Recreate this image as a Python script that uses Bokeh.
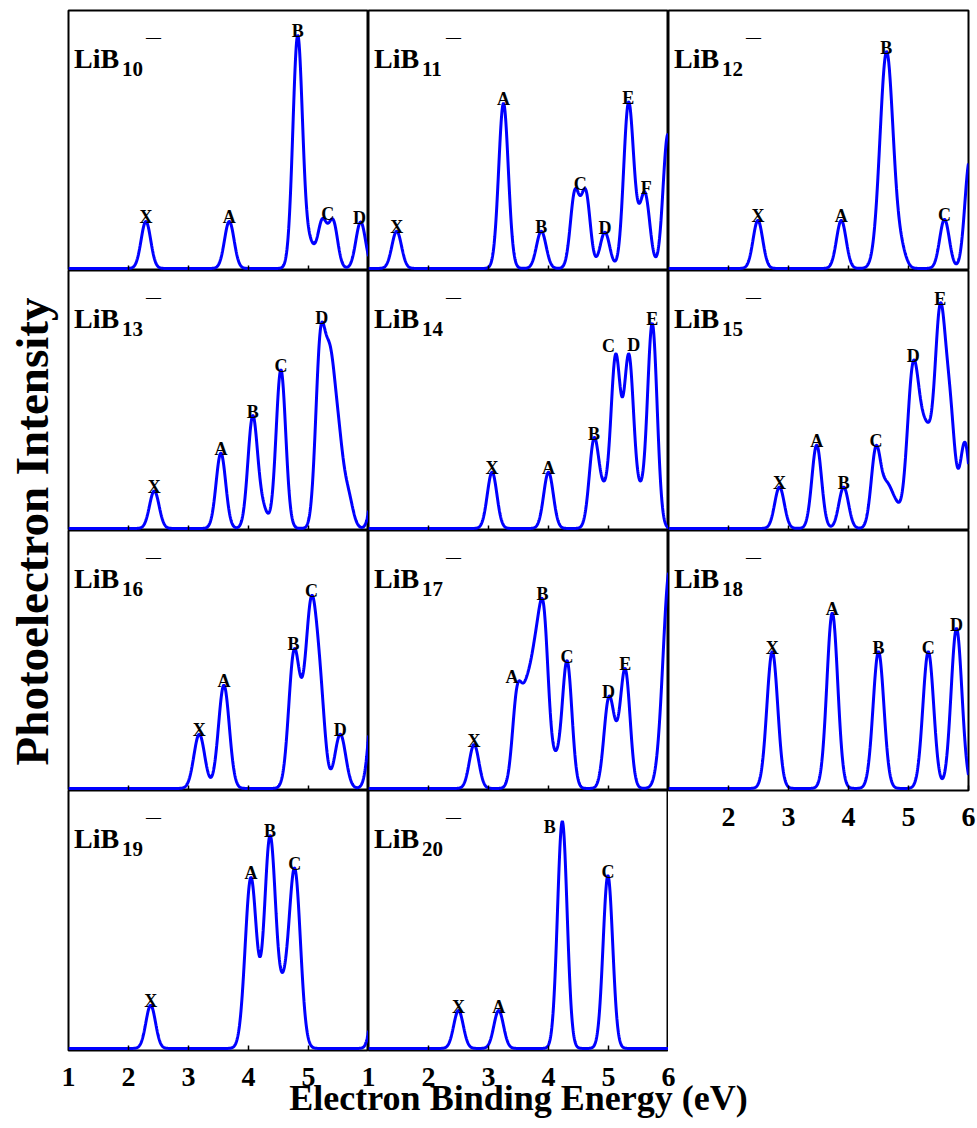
import numpy as np
from bokeh.plotting import figure
from bokeh.layouts import row, column
from bokeh.models import Range1d, FixedTicker, Label, ColumnDataSource
from bokeh.embed import file_html
from bokeh.resources import INLINE
from bokeh.core.properties import value

SERIF = "Liberation Serif"
BLUE = "#0000ff"

# ---------------- data (peak centre eV, peak height, gaussian width eV) ----------------
LIB10_CENTERS = [2.29, 3.68, 4.82, 5.02, 5.23, 5.41, 5.87]
LIB10_HEIGHTS = [0.182, 0.182, 0.90, 0.09, 0.18, 0.18, 0.18]
LIB10_WIDTHS = [0.08, 0.08, 0.08, 0.08, 0.075, 0.075, 0.08]
LIB10_LABELS = ["X", "A", "B", "C", "D"]
LIB10_LABEL_EV = [2.29, 3.68, 4.82, 5.32, 5.85]

LIB11_CENTERS = [1.47, 3.25, 3.88, 4.44, 4.62, 4.94, 5.33, 5.45, 5.61, 5.99]
LIB11_HEIGHTS = [0.144, 0.64, 0.144, 0.29, 0.29, 0.14, 0.61, 0.10, 0.28, 0.52]
LIB11_WIDTHS = [0.08, 0.08, 0.08, 0.075, 0.075, 0.08, 0.08, 0.08, 0.08, 0.08]
LIB11_LABELS = ["X", "A", "B", "C", "D", "E", "F"]
LIB11_LABEL_EV = [1.47, 3.25, 3.88, 4.53, 4.94, 5.33, 5.63]

LIB12_CENTERS = [2.49, 3.88, 4.635, 4.88, 5.60, 6.02]
LIB12_HEIGHTS = [0.186, 0.186, 0.84, 0.06, 0.19, 0.42]
LIB12_WIDTHS = [0.08, 0.08, 0.11, 0.08, 0.08, 0.08]
LIB12_LABELS = ["X", "A", "B", "C"]
LIB12_LABEL_EV = [2.49, 3.88, 4.63, 5.60]

LIB13_CENTERS = [2.43, 3.54, 4.07, 4.24, 4.54, 5.20, 5.36, 5.50, 5.66, 6.15]
LIB13_HEIGHTS = [0.145, 0.292, 0.43, 0.07, 0.615, 0.70, 0.55, 0.30, 0.12, 0.40]
LIB13_WIDTHS = [0.08] * 10
LIB13_LABELS = ["X", "A", "B", "C", "D"]
LIB13_LABEL_EV = [2.43, 3.54, 4.07, 4.54, 5.22]

LIB14_CENTERS = [3.06, 4.00, 4.76, 4.93, 5.12, 5.34, 5.53, 5.73]
LIB14_HEIGHTS = [0.218, 0.218, 0.34, 0.11, 0.655, 0.655, 0.11, 0.79]
LIB14_WIDTHS = [0.08] * 8
LIB14_LABELS = ["X", "A", "B", "C", "D", "E"]
LIB14_LABEL_EV = [3.06, 4.00, 4.76, 5.00, 5.42, 5.73]

LIB15_CENTERS = [2.85, 3.47, 3.92, 4.46, 4.64, 4.78, 5.08, 5.30, 5.53, 5.70, 5.94]
LIB15_HEIGHTS = [0.16, 0.323, 0.16, 0.31, 0.14, 0.08, 0.62, 0.33, 0.81, 0.38, 0.33]
LIB15_WIDTHS = [0.08, 0.08, 0.08, 0.08, 0.08, 0.08, 0.10, 0.10, 0.09, 0.08, 0.08]
LIB15_LABELS = ["X", "A", "B", "C", "D", "E"]
LIB15_LABEL_EV = [2.85, 3.47, 3.92, 4.46, 5.08, 5.53]

LIB16_CENTERS = [3.18, 3.59, 4.76, 4.92, 5.05, 5.20, 5.53, 6.12]
LIB16_HEIGHTS = [0.21, 0.40, 0.52, 0.12, 0.66, 0.30, 0.21, 0.50]
LIB16_WIDTHS = [0.09, 0.09, 0.09, 0.08, 0.09, 0.08, 0.09, 0.09]
LIB16_LABELS = ["X", "A", "B", "C", "D"]
LIB16_LABEL_EV = [3.18, 3.59, 4.75, 5.05, 5.53]

LIB17_CENTERS = [2.76, 3.48, 3.64, 3.78, 3.92, 4.12, 4.31, 5.00, 5.12, 5.28, 6.02]
LIB17_HEIGHTS = [0.17, 0.36, 0.30, 0.40, 0.62, 0.09, 0.49, 0.32, 0.10, 0.45, 0.85]
LIB17_WIDTHS = [0.08] * 10 + [0.11]
LIB17_LABELS = ["X", "A", "B", "C", "D", "E"]
LIB17_LABEL_EV = [2.76, 3.39, 3.90, 4.31, 5.00, 5.28]

LIB18_CENTERS = [2.73, 3.73, 4.50, 5.33, 5.80]
LIB18_HEIGHTS = [0.53, 0.68, 0.53, 0.53, 0.62]
LIB18_WIDTHS = [0.09] * 5
LIB18_LABELS = ["X", "A", "B", "C", "D"]
LIB18_LABEL_EV = [2.73, 3.73, 4.50, 5.33, 5.80]

LIB19_CENTERS = [2.37, 4.04, 4.36, 4.58, 4.77, 6.15]
LIB19_HEIGHTS = [0.167, 0.66, 0.82, 0.15, 0.69, 0.40]
LIB19_WIDTHS = [0.08, 0.095, 0.095, 0.08, 0.095, 0.08]
LIB19_LABELS = ["X", "A", "B", "C"]
LIB19_LABEL_EV = [2.37, 4.04, 4.36, 4.77]

LIB20_CENTERS = [2.50, 3.17, 4.23, 4.99]
LIB20_HEIGHTS = [0.147, 0.147, 0.88, 0.67]
LIB20_WIDTHS = [0.08] * 4
LIB20_LABELS = ["X", "A", "B", "C"]
LIB20_LABEL_EV = [2.50, 3.17, 4.23, 4.99]

X_TICKS_INNER = [2, 3, 4, 5]
X_TICKS_LIB18 = [2, 3, 4, 5, 6]
# bottom energy strip below LiB19 | LiB20 (two 1-6 eV scales placed side by side)
STRIP_TICKS = [1, 2, 3, 4, 5, 6, 7, 8, 9, 10, 11]
STRIP_TICK_TEXT = ["1", "2", "3", "4", "5", "1", "2", "3", "4", "5", "6"]

Y_LABEL = "Photoelectron Intensity"
X_LABEL = "Electron Binding Energy (eV)"

# ---------------- layout constants ----------------
FW, FH = 300, 260
XMIN, XMAX = 1.0, 6.0
YMIN, YMAX = -0.008, 1.0
PPU_X = FW / (XMAX - XMIN)
PPU_Y = FH / (YMAX - YMIN)
E_GRID = np.linspace(XMIN, XMAX, 1001)
LEFT_PAD, RIGHT_PAD, TOP_PAD = 9, 8, 10
YLAB_W = 59

# label nudges in px (dx right, dy up)
LABEL_NUDGE = {(20, "B"): (-12.6, -10.0), (14, "C"): (0.0, 5.0), (14, "D"): (0.0, 5.0)}

PANELS = {
    10: (LIB10_CENTERS, LIB10_HEIGHTS, LIB10_WIDTHS, LIB10_LABELS, LIB10_LABEL_EV),
    11: (LIB11_CENTERS, LIB11_HEIGHTS, LIB11_WIDTHS, LIB11_LABELS, LIB11_LABEL_EV),
    12: (LIB12_CENTERS, LIB12_HEIGHTS, LIB12_WIDTHS, LIB12_LABELS, LIB12_LABEL_EV),
    13: (LIB13_CENTERS, LIB13_HEIGHTS, LIB13_WIDTHS, LIB13_LABELS, LIB13_LABEL_EV),
    14: (LIB14_CENTERS, LIB14_HEIGHTS, LIB14_WIDTHS, LIB14_LABELS, LIB14_LABEL_EV),
    15: (LIB15_CENTERS, LIB15_HEIGHTS, LIB15_WIDTHS, LIB15_LABELS, LIB15_LABEL_EV),
    16: (LIB16_CENTERS, LIB16_HEIGHTS, LIB16_WIDTHS, LIB16_LABELS, LIB16_LABEL_EV),
    17: (LIB17_CENTERS, LIB17_HEIGHTS, LIB17_WIDTHS, LIB17_LABELS, LIB17_LABEL_EV),
    18: (LIB18_CENTERS, LIB18_HEIGHTS, LIB18_WIDTHS, LIB18_LABELS, LIB18_LABEL_EV),
    19: (LIB19_CENTERS, LIB19_HEIGHTS, LIB19_WIDTHS, LIB19_LABELS, LIB19_LABEL_EV),
    20: (LIB20_CENTERS, LIB20_HEIGHTS, LIB20_WIDTHS, LIB20_LABELS, LIB20_LABEL_EV),
}


def broadened(centers, heights, widths):
    c = np.asarray(centers)[:, None]
    h = np.asarray(heights)[:, None]
    w = np.asarray(widths)[:, None]
    return (h * np.exp(-((E_GRID[None, :] - c) ** 2) / (2.0 * w ** 2))).sum(axis=0)


def style_tick_labels(ax, size):
    ax.major_label_text_font = SERIF
    ax.major_label_text_font_style = "bold"
    ax.major_label_text_font_size = size
    ax.major_label_text_color = "black"


def make_panel(n, top=False, left=False, right=False, bottom=0, labelled_axis=False):
    centers, heights, widths, labels, label_ev = PANELS[n]
    p = figure(
        frame_width=FW, frame_height=FH,
        x_range=Range1d(XMIN, XMAX), y_range=Range1d(YMIN, YMAX),
        output_backend="svg", toolbar_location=None, y_axis_location=None,
        min_border_top=TOP_PAD if top else 0,
        min_border_left=LEFT_PAD if left else 0,
        min_border_right=RIGHT_PAD if right else 0,
        min_border_bottom=bottom,
        background_fill_color="white", border_fill_color="white",
        outline_line_color="black", outline_line_width=2,
    )
    p.xgrid.visible = False
    p.ygrid.visible = False

    ax = p.xaxis[0]
    ax.ticker = FixedTicker(ticks=X_TICKS_LIB18 if labelled_axis else X_TICKS_INNER, minor_ticks=[])
    ax.major_tick_in = 5
    ax.major_tick_out = 0
    ax.minor_tick_in = 0
    ax.minor_tick_out = 0
    ax.major_tick_line_width = 1.5
    ax.major_tick_line_color = "black"
    ax.axis_line_color = None
    if labelled_axis:
        style_tick_labels(ax, "28px")
        ax.major_label_standoff = 17
    else:
        ax.fixed_location = YMIN
        ax.major_label_text_color = None
        ax.major_label_text_font_size = "0px"
        ax.major_label_standoff = 0

    curve = broadened(centers, heights, widths)
    p.line(E_GRID, curve, line_color=BLUE, line_width=3)

    xs, ys = [], []
    for lab, ev in zip(labels, label_ev):
        win = np.abs(E_GRID - ev) <= 0.12
        y_anchor = curve[win].max()
        dx, dy = LABEL_NUDGE.get((n, lab), (0.0, 0.0))
        xs.append(ev + dx / PPU_X)
        ys.append(y_anchor + (4.0 + dy) / PPU_Y)
    src = ColumnDataSource(dict(x=xs, y=ys, text=labels))
    p.text(x="x", y="y", text="text", source=src, text_font=value(SERIF),
           text_font_style="bold", text_font_size="18px", text_align="center",
           text_baseline="alphabetic", text_color="black")

    p.add_layout(Label(x=XMIN + 5.5 / PPU_X, y=YMAX - 48 / PPU_Y, text="LiB",
                       text_font=SERIF, text_font_style="bold", text_font_size="28px",
                       text_color="black", text_align="left", text_baseline="alphabetic"))
    p.add_layout(Label(x=XMIN + 53.5 / PPU_X, y=YMAX - 58 / PPU_Y, text=str(n),
                       text_font=SERIF, text_font_style="bold", text_font_size="21px",
                       text_color="black", text_align="left", text_baseline="alphabetic"))
    p.add_layout(Label(x=XMIN + 77.5 / PPU_X, y=YMAX - 26.5 / PPU_Y, text="\u2014",
                       text_font=SERIF, text_font_style="bold", text_font_size="15px",
                       text_color="black", text_align="left", text_baseline="alphabetic"))
    return p


col1 = column(
    make_panel(10, top=True, left=True),
    make_panel(13, left=True),
    make_panel(16, left=True),
    make_panel(19, left=True, bottom=2),
)
col2 = column(
    make_panel(11, top=True),
    make_panel(14),
    make_panel(17),
    make_panel(20, bottom=2),
)
col3 = column(
    make_panel(12, top=True, right=True),
    make_panel(15, right=True),
    make_panel(18, right=True, bottom=70, labelled_axis=True),
)

GRID_H = TOP_PAD + 4 * FH
ylab = figure(frame_width=YLAB_W, frame_height=GRID_H, x_range=Range1d(0, YLAB_W), y_range=Range1d(0, GRID_H),
              output_backend="svg", toolbar_location=None, x_axis_location=None, y_axis_location=None,
              min_border=0, outline_line_color=None, border_fill_color="white", background_fill_color="white")
ylab.xgrid.visible = False
ylab.ygrid.visible = False
ylab.text(x=[31], y=[GRID_H - 531], text=[Y_LABEL], angle=np.pi / 2, text_font=value(SERIF),
          text_font_style="bold", text_font_size="47px", text_align="center",
          text_baseline="middle", text_color="black")

# bottom strip: energy tick labels for LiB19 and LiB20 plus the shared axis title
strip = figure(frame_width=3 * FW, frame_height=1, x_range=Range1d(XMIN, XMIN + 3 * (XMAX - XMIN)),
               y_range=Range1d(0, 1), output_backend="svg", toolbar_location=None, y_axis_location=None,
               min_border_left=YLAB_W + LEFT_PAD, min_border_right=RIGHT_PAD, min_border_top=0,
               min_border_bottom=0, outline_line_color=None, border_fill_color="white",
               background_fill_color="white")
strip.xgrid.visible = False
strip.ygrid.visible = False
sax = strip.xaxis[0]
sax.ticker = FixedTicker(ticks=STRIP_TICKS, minor_ticks=[])
sax.major_label_overrides = {t: s for t, s in zip(STRIP_TICKS, STRIP_TICK_TEXT)}
sax.major_tick_in = 0
sax.major_tick_out = 0
sax.minor_tick_in = 0
sax.minor_tick_out = 0
sax.axis_line_color = None
style_tick_labels(sax, "28px")
sax.major_label_standoff = 14
sax.axis_label = X_LABEL
sax.axis_label_text_font = SERIF
sax.axis_label_text_font_style = "bold"
sax.axis_label_text_font_size = "36px"
sax.axis_label_text_color = "black"
sax.axis_label_standoff = -11

layout = column(row(ylab, col1, col2, col3), strip)

open("out.html", "w").write(file_html(layout, INLINE))
